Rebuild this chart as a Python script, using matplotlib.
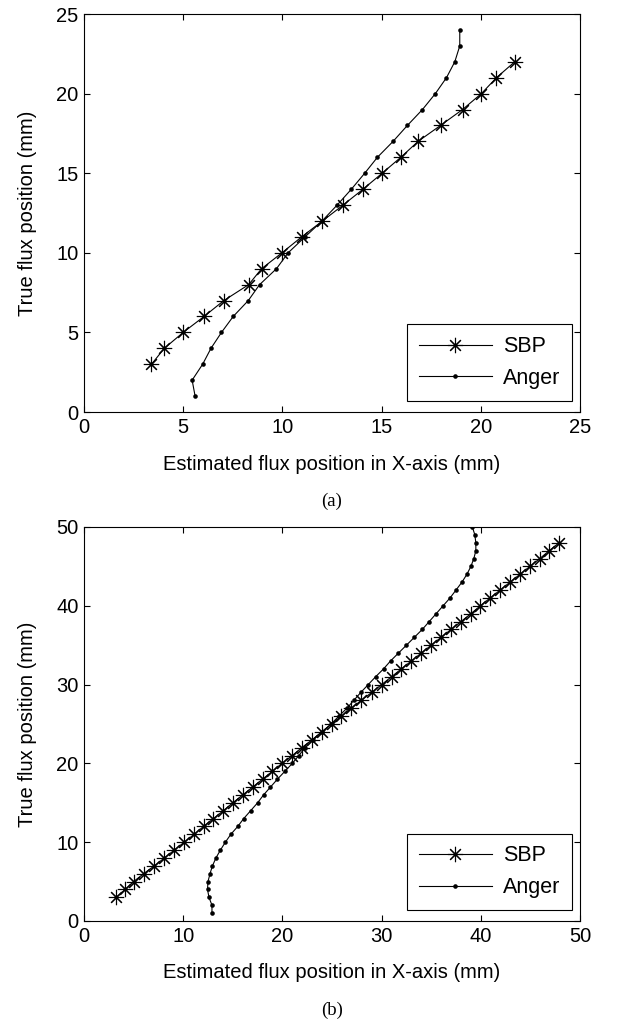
import matplotlib
matplotlib.use('Agg')
import matplotlib.pyplot as plt
import numpy as np

plt.rcParams['font.family'] = ['Liberation Sans', 'DejaVu Sans']

# (a) 25 mm field
true_a_sbp = list(range(3, 23))
est_a_sbp = [3.4, 4.05, 5.0, 6.05, 7.05, 8.3, 8.95, 9.98, 10.97, 12.02,
             13.06, 14.07, 15.03, 15.97, 16.84, 17.97, 19.08, 20.03, 20.79, 21.71]
true_a_anger = list(range(1, 25))
est_a_anger = [5.6, 5.45, 5.98, 6.4, 6.93, 7.52, 8.28, 8.85, 9.7, 10.29,
               11.14, 12.0, 12.76, 13.48, 14.15, 14.79, 15.58, 16.3, 17.06, 17.71,
               18.27, 18.69, 18.94, 18.94]

# (b) 50 mm field
true_b_sbp = list(range(3, 49))
est_b_sbp = [3.25, 4.15, 5.0, 6.0, 7.1, 8.1, 9.1, 10.1, 11.1, 12.05,
             13.05, 14.05, 15.0, 16.0, 17.0, 18.0, 19.0, 19.95, 21.0, 21.95,
             23.0, 23.95, 24.95, 25.95, 26.95, 27.95, 29.0, 30.0, 31.0, 32.0,
             33.0, 34.0, 35.0, 36.0, 37.0, 38.0, 39.0, 39.95, 40.95, 41.95,
             42.95, 43.95, 44.95, 45.95, 46.9, 47.9]
true_b_anger = list(range(1, 51))
est_b_anger = [12.9, 12.9, 12.6, 12.45, 12.5, 12.7, 12.95, 13.3, 13.75, 14.25,
               14.8, 15.5, 16.1, 16.8, 17.5, 18.1, 18.8, 19.5, 20.25, 21.0,
               21.65, 22.3, 23.1, 24.0, 24.9, 25.7, 26.5, 27.2, 27.9, 28.65,
               29.4, 30.2, 30.9, 31.7, 32.5, 33.3, 34.1, 34.8, 35.5, 36.2,
               36.9, 37.5, 38.1, 38.6, 39.0, 39.3, 39.5, 39.5, 39.4, 39.15]

W, H = 621, 1019
fig = plt.figure(figsize=(W / 100, H / 100), dpi=100)
# axes boxes in pixels: left, top, right, bottom
ax1 = fig.add_axes([84 / W, 1 - 412 / H, 496 / W, 398 / H])
ax2 = fig.add_axes([84 / W, 1 - 921 / H, 496 / W, 394 / H])

asterisk = (8, 2, 0)


def draw_panel(ax, xs, ys, xa, ya, lim, step, caption):
    ax.plot(xs, ys, color='black', lw=0.8, marker=asterisk, markersize=11,
            markeredgewidth=0.8, label='SBP')
    ax.plot(xa, ya, color='black', lw=0.8, marker='o', markersize=3.3,
            markeredgewidth=0, label='Anger')
    ax.set_xlim(0, lim)
    ax.set_ylim(0, lim)
    ticks = np.arange(0, lim + 1, step)
    ax.set_xticks(ticks)
    ax.set_yticks(ticks)
    ax.tick_params(direction='in', top=True, right=True, length=4, width=0.8,
                   labelsize=14.5, pad=4)
    for s in ax.spines.values():
        s.set_linewidth(0.8)
    h_ax = ax.get_position().height * H
    ax.set_xlabel('Estimated flux position in X-axis (mm)', fontsize=14.5)
    ax.xaxis.set_label_coords(0.5, -52 / h_ax)
    ax.xaxis.label.set_va('center')
    ax.set_ylabel('True flux position (mm)', fontsize=14.5)
    ax.yaxis.set_label_coords(-56 / 496, 0.5)
    ax.yaxis.label.set_va('center')
    leg = ax.legend(loc='lower right', bbox_to_anchor=(0.984, 0.028),
                    borderaxespad=0, fancybox=False, edgecolor='black',
                    handlelength=3.4, handletextpad=0.5, fontsize=15.5,
                    framealpha=1, borderpad=0.55, labelspacing=0.5)
    leg.get_frame().set_linewidth(0.8)
    ax.text(0.5, -89 / h_ax, caption, transform=ax.transAxes, ha='center',
            va='center', fontsize=13.5, family='Liberation Serif')


draw_panel(ax1, est_a_sbp, true_a_sbp, est_a_anger, true_a_anger, 25, 5, '(a)')
draw_panel(ax2, est_b_sbp, true_b_sbp, est_b_anger, true_b_anger, 50, 10, '(b)')

fig.savefig('out.png', dpi=100)
